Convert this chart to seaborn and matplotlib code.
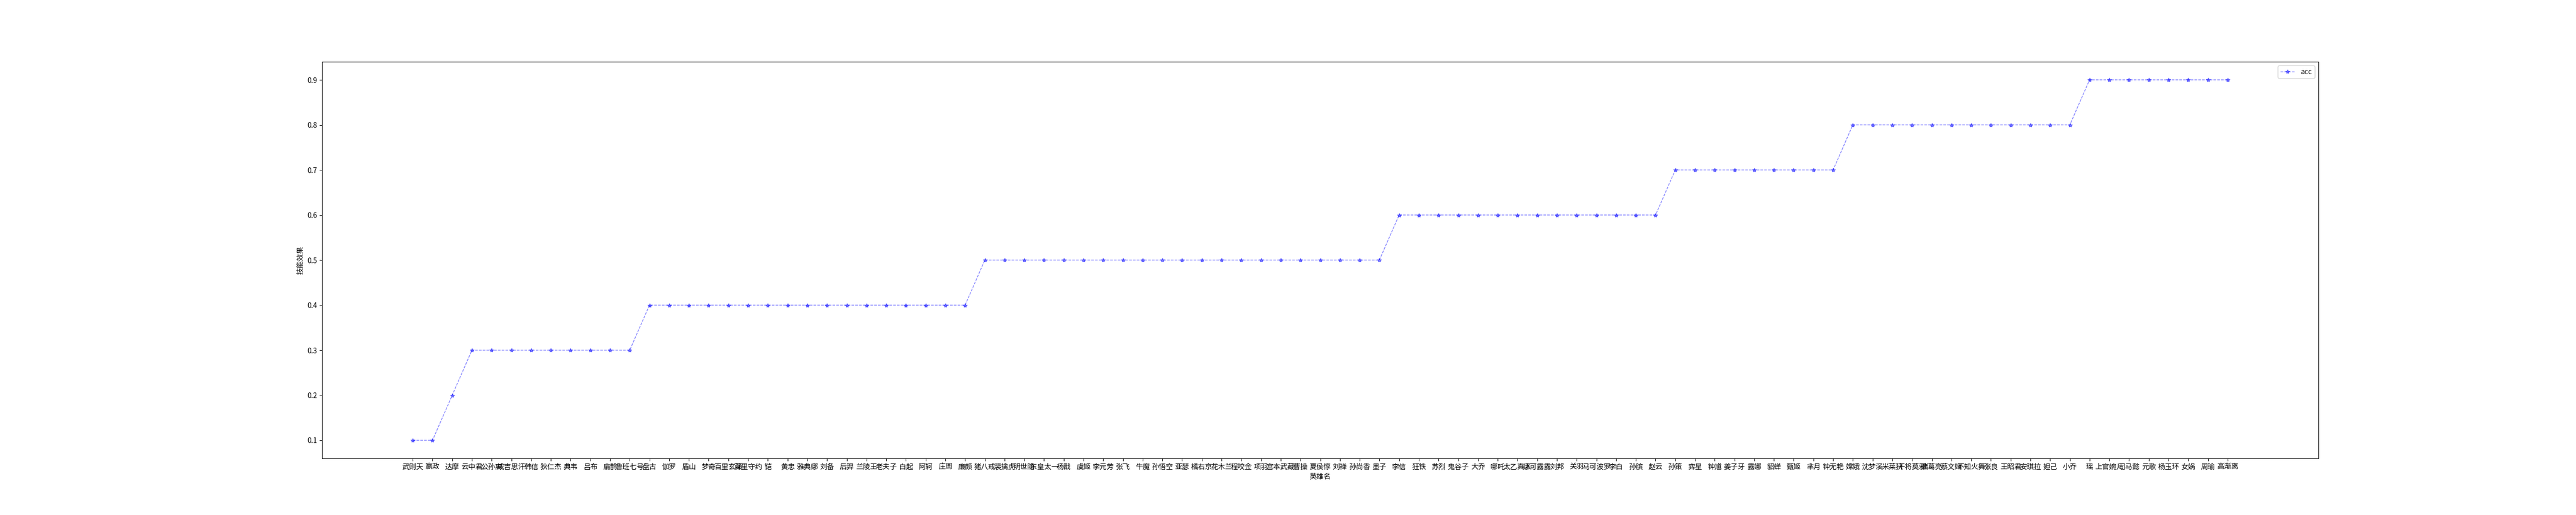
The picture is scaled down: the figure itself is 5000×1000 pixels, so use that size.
import matplotlib
matplotlib.use('Agg')
import matplotlib.pyplot as plt
import seaborn as sns
import pandas as pd

plt.rcParams['font.family'] = ['Noto Sans CJK SC', 'DejaVu Sans']
plt.rcParams['axes.unicode_minus'] = False

# Hero names, sorted by skill effect
heroes = [
    '武则天', '嬴政', '达摩', '云中君', '公孙离', '成吉思汗', '韩信', '狄仁杰', '典韦', '吕布',
    '扁鹊', '鲁班七号', '盘古', '伽罗', '盾山', '梦奇', '百里玄策', '百里守约', '铠', '黄忠',
    '雅典娜', '刘备', '后羿', '兰陵王', '老夫子', '白起', '阿轲', '庄周', '廉颇', '猪八戒',
    '裴擒虎', '明世隐', '东皇太一', '杨戬', '虞姬', '李元芳', '张飞', '牛魔', '孙悟空', '亚瑟',
    '橘右京', '花木兰', '程咬金', '项羽', '宫本武藏', '曹操', '夏侯惇', '刘禅', '孙尚香', '墨子',
    '李信', '狂铁', '苏烈', '鬼谷子', '大乔', '哪吒', '太乙真人', '娜可露露', '刘邦', '关羽',
    '马可波罗', '李白', '孙膑', '赵云', '孙策', '弈星', '钟馗', '姜子牙', '露娜', '貂蝉',
    '甄姬', '芈月', '钟无艳', '嫦娥', '沈梦溪', '米莱狄', '干将莫邪', '诸葛亮', '蔡文姬', '不知火舞',
    '张良', '王昭君', '安琪拉', '妲己', '小乔', '瑶', '上官婉儿', '司马懿', '元歌', '杨玉环',
    '女娲', '周瑜', '高渐离',
]

acc = [
    0.1, 0.1, 0.2,
    0.3, 0.3, 0.3, 0.3, 0.3, 0.3, 0.3, 0.3, 0.3,
    0.4, 0.4, 0.4, 0.4, 0.4, 0.4, 0.4, 0.4, 0.4, 0.4, 0.4, 0.4, 0.4, 0.4, 0.4, 0.4, 0.4,
    0.5, 0.5, 0.5, 0.5, 0.5, 0.5, 0.5, 0.5, 0.5, 0.5, 0.5, 0.5, 0.5, 0.5, 0.5, 0.5, 0.5,
    0.5, 0.5, 0.5, 0.5,
    0.6, 0.6, 0.6, 0.6, 0.6, 0.6, 0.6, 0.6, 0.6, 0.6, 0.6, 0.6, 0.6, 0.6,
    0.7, 0.7, 0.7, 0.7, 0.7, 0.7, 0.7, 0.7, 0.7,
    0.8, 0.8, 0.8, 0.8, 0.8, 0.8, 0.8, 0.8, 0.8, 0.8, 0.8, 0.8,
    0.9, 0.9, 0.9, 0.9, 0.9, 0.9, 0.9, 0.9,
]

df = pd.DataFrame({'英雄名': heroes, '技能效果': acc})

fig, ax = plt.subplots(figsize=(50, 10), dpi=100)
sns.lineplot(data=df, x='英雄名', y='技能效果', sort=False, ax=ax,
             color='b', linestyle='--', marker='*', markersize=6,
             markeredgecolor='b', markeredgewidth=1,
             linewidth=1, alpha=0.5, label='acc')

ax.legend(loc='upper right')
ax.set_xlabel('英雄名')
ax.set_ylabel('技能效果')

plt.savefig('out.png')
plt.close()
